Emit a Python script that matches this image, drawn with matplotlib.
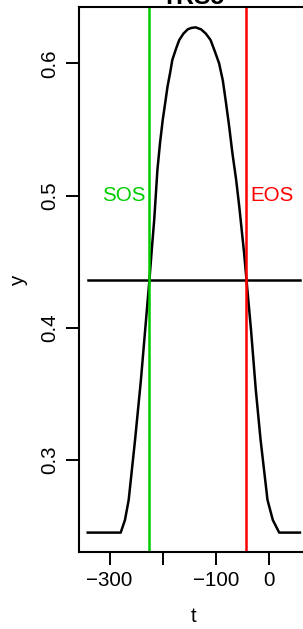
import matplotlib
matplotlib.use("Agg")
import matplotlib.pyplot as plt

plt.rcParams['font.family'] = ['Liberation Sans', 'DejaVu Sans']

# fitted curve
t = [-341, -279, -271, -264, -252, -241, -225, -220, -216, -210, -205, -200,
     -195, -191, -186, -182, -175, -169, -161, -153, -146, -138, -128, -119,
     -110, -102, -94, -87, -81, -75, -69, -62, -56, -47, -42.5, -34, -25,
     -16, -3, 7, 19, 58]
y = [0.245, 0.245, 0.2545, 0.2697, 0.3151, 0.3604, 0.4361, 0.462, 0.4815,
     0.5193, 0.540, 0.5571, 0.571, 0.5823, 0.593, 0.6025, 0.611, 0.6176,
     0.6225, 0.6257, 0.6268, 0.6272, 0.6257, 0.6225, 0.6176, 0.609, 0.600,
     0.587, 0.570, 0.552, 0.5321, 0.512, 0.4913, 0.4565, 0.4361, 0.3983,
     0.3529, 0.3151, 0.2697, 0.2545, 0.245, 0.245]

threshold = 0.4361
sos = -225
eos = -42.5
label_y = 0.5

xticks = [-300, -200, -100, 0]
xticklabels = ['\u2212300', '', '\u2212100', '0']
yticks = [0.3, 0.4, 0.5, 0.6]
yticklabels = ['0.3', '0.4', '0.5', '0.6']

fs = 14.8
W, H = 303, 629
fig = plt.figure(figsize=(W / 100, H / 100), dpi=100)
ax = fig.add_axes([79 / W, 1 - 552.3 / H, 229.3 / W, 545.3 / H])

ax.plot(t, y, color='black', lw=1.8)
ax.plot([min(t), max(t)], [threshold, threshold], color='black', lw=1.8)
ax.axvline(sos, color='#00CD00', lw=1.8)
ax.axvline(eos, color='#FF0000', lw=1.8)

ax.annotate('SOS', (sos, label_y), xytext=(-3, 0), textcoords='offset points',
            ha='right', va='center', color='#00CD00', fontsize=fs)
ax.annotate('EOS', (eos, label_y), xytext=(3, 0), textcoords='offset points',
            ha='left', va='center', color='#FF0000', fontsize=fs)

ax.set_xlim(-357.4, 73.7)
ax.set_ylim(0.2301, 0.6426)
ax.set_xticks(xticks)
ax.set_xticklabels(xticklabels)
ax.set_yticks(yticks)
ax.set_yticklabels(yticklabels, rotation=90, va='center')
ax.tick_params(length=9.4, width=1.4, labelsize=fs, pad=5)
ax.tick_params(axis='x', pad=4)
for s in ax.spines.values():
    s.set_linewidth(1.5)

fig.text(18 / W, 1 - 280 / H, 'y', rotation=90, ha='center', va='center',
         fontsize=fs)
fig.text(193.6 / W, 1 - 616 / H, 't', ha='center', va='center', fontsize=fs)
fig.text(193.6 / W, 1 - 4.5 / H, 'TRS5', ha='center', va='baseline',
         fontsize=17.8, fontweight='bold')

fig.savefig('out.png', dpi=100)
